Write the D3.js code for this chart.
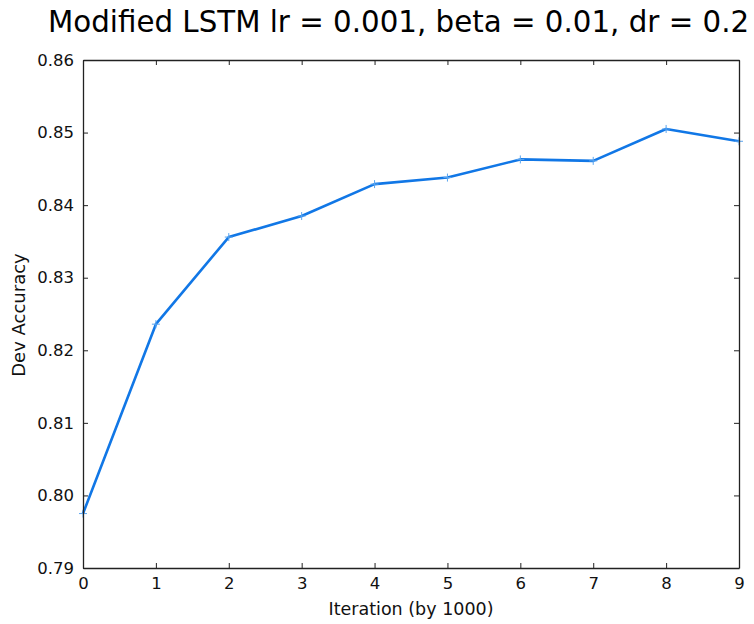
<!DOCTYPE html>
<html><head><meta charset="utf-8">
<script src="https://cdn.jsdelivr.net/npm/d3@7"></script>
<style>body{margin:0;background:#fff}svg{display:block}text{font-family:"DejaVu Sans",sans-serif}</style>
</head><body>
<svg id="c" width="754" height="624"></svg>
<script>
const titleText = "Modified LSTM lr = 0.001, beta = 0.01, dr = 0.2";
const xLabel = "Iteration (by 1000)";
const yLabel = "Dev Accuracy";
const iterations = [0,1,2,3,4,5,6,7,8,9];
const devAccuracy = [0.7975,0.8236,0.8356,0.8385,0.8429,0.8438,0.8463,0.8461,0.8505,0.8488];
const xTicks = [0,1,2,3,4,5,6,7,8,9];
const yTicks = [0.79,0.80,0.81,0.82,0.83,0.84,0.85,0.86];

(function(){
const svg = d3.select("#c");
const L=83, R=739, T=60, B=568;
const x = d3.scaleLinear().domain([0,9]).range([L,R]);
const y = d3.scaleLinear().domain([0.79,0.86]).range([B,T]);
const axisColor = "#222";

const line = d3.line().x((d,i)=>x(iterations[i])).y(d=>y(d));
svg.append("path").datum(devAccuracy).attr("d",line)
  .attr("fill","none").attr("stroke","#1177e6").attr("stroke-width",2.6).attr("stroke-linejoin","round");
svg.append("g").selectAll("path").data(devAccuracy).join("path")
  .attr("d",(d,i)=>{const cx=x(iterations[i]), cy=y(d); return `M${cx-4},${cy}H${cx+4}M${cx},${cy-4}V${cy+4}`;})
  .attr("stroke","#5aa5ef").attr("stroke-width",1);

const gBottom = svg.append("g").attr("transform",`translate(0,${B})`)
  .call(d3.axisBottom(x).tickValues(xTicks).tickFormat(d3.format("d")).tickSizeInner(-5).tickSizeOuter(0).tickPadding(9));
const gTop = svg.append("g").attr("transform",`translate(0,${T})`)
  .call(d3.axisTop(x).tickValues(xTicks).tickFormat("").tickSizeInner(-5).tickSizeOuter(0));
const gLeft = svg.append("g").attr("transform",`translate(${L},0)`)
  .call(d3.axisLeft(y).tickValues(yTicks).tickFormat(d3.format(".2f")).tickSizeInner(-5).tickSizeOuter(0).tickPadding(9));
const gRight = svg.append("g").attr("transform",`translate(${R},0)`)
  .call(d3.axisRight(y).tickValues(yTicks).tickFormat("").tickSizeInner(-5).tickSizeOuter(0));
[gBottom,gTop,gLeft,gRight].forEach(g=>{
  g.select(".domain").attr("stroke",axisColor).attr("stroke-width",1.3);
  g.selectAll(".tick line").attr("stroke",axisColor).attr("stroke-width",1);
  g.selectAll("text").attr("font-size",16.5).attr("fill","#111").attr("font-family","DejaVu Sans");
});
gBottom.selectAll("text").attr("dy","0.75em");

svg.append("text").attr("x",48).attr("y",32).attr("font-size",29.3).attr("fill","#000").text(titleText);
svg.append("text").attr("x",(L+R)/2).attr("y",615).attr("text-anchor","middle").attr("font-size",17.5).attr("fill","#111").text(xLabel);
svg.append("text").attr("transform",`translate(25,${(T+B)/2+1}) rotate(-90)`).attr("text-anchor","middle").attr("font-size",18).attr("fill","#111").text(yLabel);
})();
</script>
</body></html>
